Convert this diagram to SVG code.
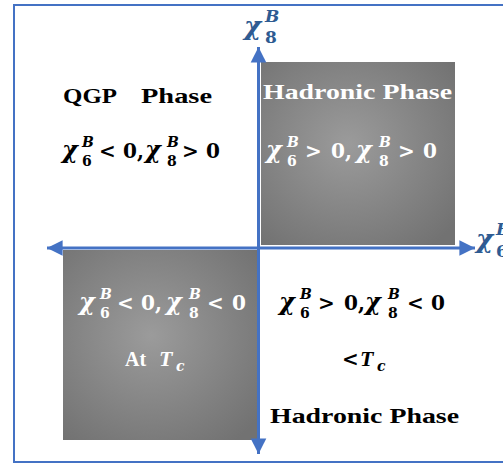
<svg xmlns="http://www.w3.org/2000/svg" width="503" height="464" viewBox="0 0 503 464">
<style>
text{font-family:"Liberation Serif","DejaVu Serif",serif;font-weight:bold}
.m{font-family:"DejaVu Serif",serif;font-size:20px}
.x{font-family:"DejaVu Serif",serif;font-size:24px;font-style:italic}
.s{font-family:"DejaVu Serif",serif;font-size:14px}
.si{font-family:"DejaVu Serif",serif;font-size:14px;font-style:italic}
.w{fill:#ffffff}
.k{fill:#000000}
.ax{fill:#2E5B92;font-family:"DejaVu Serif",serif}
.lab{font-size:22px}
.axis{stroke:#4472C4;stroke-width:3;fill:none}
</style>
<defs>
<radialGradient id="g" cx="0.45" cy="0.45" r="0.7">
<stop offset="0" stop-color="#9b9b9b"/>
<stop offset="1" stop-color="#727272"/>
</radialGradient>
<marker id="ah" viewBox="0 0 10 10" refX="10" refY="5" markerWidth="5.2" markerHeight="5.4" orient="auto-start-reverse" markerUnits="strokeWidth">
<path d="M0,0 L10,5 L0,10 z" fill="#4472C4"/>
</marker>
</defs>
<rect x="0" y="0" width="503" height="464" fill="#ffffff"/>
<rect id="frame" x="14" y="5" width="500" height="457" fill="none" stroke="#4472C4" stroke-width="2"/>

<g id="hadronic-top">
<rect x="261" y="62" width="194" height="183" fill="url(#g)"/>
<text class="w lab" x="263" y="99" textLength="189" lengthAdjust="spacingAndGlyphs">Hadronic Phase</text>
<text class="w x" x="266" y="158">χ</text>
<text class="w si" x="287" y="147">B</text>
<text class="w s" x="287" y="166">6</text>
<text class="w m" x="305" y="158">&gt;</text>
<text class="w m" x="331" y="158">0,</text>
<text class="w x" x="356" y="158">χ</text>
<text class="w si" x="379" y="147">B</text>
<text class="w s" x="379" y="166">8</text>
<text class="w m" x="398" y="158">&gt;</text>
<text class="w m" x="423" y="158">0</text>
</g>

<g id="qgp">
<text class="k" x="63" y="103" font-size="21" textLength="54" lengthAdjust="spacingAndGlyphs">QGP</text>
<text class="k" x="141" y="103" font-size="21" textLength="71" lengthAdjust="spacingAndGlyphs">Phase</text>
<text class="k x" x="62" y="158">χ</text>
<text class="k si" x="82" y="147">B</text>
<text class="k s" x="82" y="166">6</text>
<text class="k m" x="99" y="158">&lt;</text>
<text class="k m" x="123" y="158">0,</text>
<text class="k x" x="145" y="158">χ</text>
<text class="k si" x="167" y="147">B</text>
<text class="k s" x="167" y="166">8</text>
<text class="k m" x="182" y="158">&gt;</text>
<text class="k m" x="206" y="158">0</text>
</g>

<g id="critical">
<rect x="63" y="250" width="196" height="190" fill="url(#g)"/>
<text class="w x" x="79" y="310">χ</text>
<text class="w si" x="100" y="299">B</text>
<text class="w s" x="100" y="318">6</text>
<text class="w m" x="117" y="310">&lt;</text>
<text class="w m" x="141" y="310">0,</text>
<text class="w x" x="166" y="310">χ</text>
<text class="w si" x="189" y="299">B</text>
<text class="w s" x="189" y="318">8</text>
<text class="w m" x="207" y="310">&lt;</text>
<text class="w m" x="232" y="310">0</text>
<text class="w" x="125" y="366" font-size="20">At</text>
<text class="w" x="159" y="366" font-size="22" font-style="italic">T</text>
<text class="w si" x="176" y="371">c</text>
</g>

<g id="hadronic-bottom">
<text class="k x" x="279" y="310">χ</text>
<text class="k si" x="300" y="299">B</text>
<text class="k s" x="300" y="318">6</text>
<text class="k m" x="318" y="310">&gt;</text>
<text class="k m" x="344" y="310">0,</text>
<text class="k x" x="365" y="310">χ</text>
<text class="k si" x="388" y="299">B</text>
<text class="k s" x="388" y="318">8</text>
<text class="k m" x="407" y="310">&lt;</text>
<text class="k m" x="431" y="310">0</text>
<text class="k m" x="342" y="366">&lt;</text>
<text class="k" x="360" y="366" font-size="22" font-style="italic">T</text>
<text class="k si" x="377" y="371">c</text>
<text class="k lab" x="270" y="423" textLength="189" lengthAdjust="spacingAndGlyphs">Hadronic Phase</text>
</g>

<g id="connectors">
<line class="axis" x1="258.5" y1="454" x2="258.5" y2="47" marker-end="url(#ah)" marker-start="url(#ah)"/>
<line class="axis" x1="47" y1="248" x2="475" y2="248" marker-end="url(#ah)" marker-start="url(#ah)"/>
</g>

<g id="axis-labels">
<text class="ax" x="244" y="35" font-size="26" font-style="italic">χ</text>
<text class="ax" x="265" y="22" font-size="17" font-style="italic">B</text>
<text class="ax" x="265" y="43" font-size="17">8</text>
<text class="ax" x="476" y="248" font-size="26" font-style="italic">χ</text>
<text class="ax" x="496" y="235" font-size="17" font-style="italic">B</text>
<text class="ax" x="496" y="257" font-size="17">6</text>
</g>
</svg>
